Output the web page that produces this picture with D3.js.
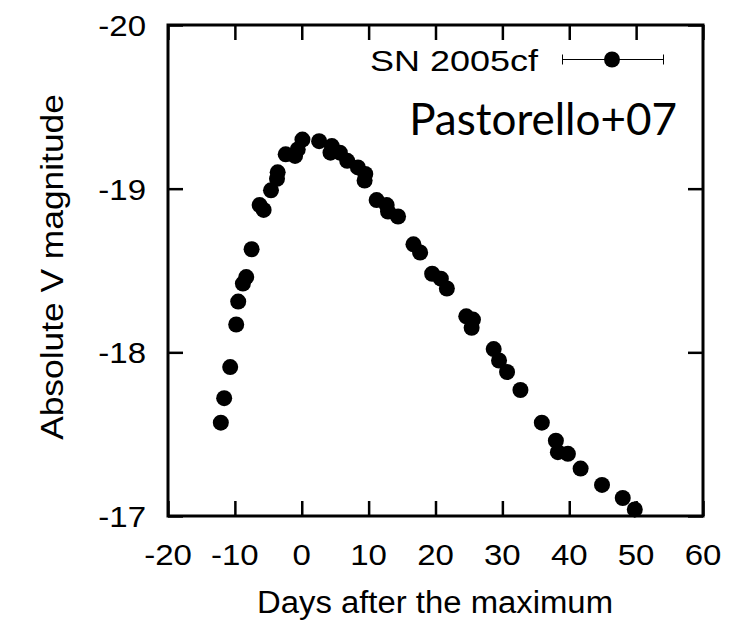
<!DOCTYPE html>
<html>
<head>
<meta charset="utf-8">
<script src="https://cdn.jsdelivr.net/npm/d3@7"></script>
<style>
  body { margin: 0; background: #fff; }
  text { font-family: "Liberation Sans", Arial, Helvetica, sans-serif; fill: #000; }
</style>
</head>
<body>
<div id="chart"></div>
<script>
// SN 2005cf light curve
const days = [-12.1, -11.6, -10.7, -9.8, -9.5, -8.8, -8.3, -7.5, -6.3, -5.7, -4.6, -3.7, -3.6, -2.4, -1.0, -0.6,
  0.1, 2.6, 4.5, 4.3, 5.7, 6.8, 8.4, 9.5, 9.4, 11.2, 12.7, 12.9, 14.4, 16.7, 17.7, 19.5, 20.8, 21.7,
  24.6, 25.6, 25.4, 28.7, 29.5, 30.7, 32.7, 35.9, 38.0, 38.3, 39.8, 41.7, 44.9, 48.0, 49.8];
const mags = [-17.57, -17.72, -17.91, -18.17, -18.31, -18.42, -18.46, -18.63, -18.90, -18.87, -18.99, -19.06, -19.10, -19.21, -19.20, -19.24,
  -19.30, -19.29, -19.26, -19.22, -19.22, -19.17, -19.13, -19.09, -19.05, -18.93, -18.90, -18.86, -18.83, -18.66, -18.61, -18.48, -18.45, -18.39,
  -18.22, -18.20, -18.15, -18.02, -17.95, -17.88, -17.77, -17.57, -17.46, -17.39, -17.38, -17.29, -17.19, -17.11, -17.04];
const errs = [0.03, 0.03, 0.03, 0.03, 0.03, 0.03, 0.03, 0.03, 0.02, 0.02, 0.02, 0.02, 0.02, 0.02, 0.02, 0.02,
  0.02, 0.02, 0.02, 0.02, 0.02, 0.02, 0.02, 0.02, 0.02, 0.02, 0.02, 0.02, 0.02, 0.02, 0.02, 0.02, 0.02, 0.02,
  0.03, 0.03, 0.03, 0.03, 0.03, 0.03, 0.03, 0.03, 0.04, 0.03, 0.03, 0.04, 0.03, 0.04, 0.05];

const xTicks = [-20, -10, 0, 10, 20, 30, 40, 50, 60];
const yTicks = [-20, -19, -18, -17];

const WIDTH = 749, HEIGHT = 623;
const margin = {top: 25, right: 46, bottom: 107, left: 168};
const w = WIDTH - margin.left - margin.right;
const h = HEIGHT - margin.top - margin.bottom;

const svg = d3.select('#chart').append('svg')
    .attr('width', WIDTH)
    .attr('height', HEIGHT);

const g = svg.append('g')
    .attr('transform', `translate(${margin.left},${margin.top})`);

const x = d3.scaleLinear().domain([-20, 60]).range([0, w]);
const y = d3.scaleLinear().domain([-20, -17]).range([0, h]);

const TL = 15;
const SX = 1.1; // the original font runs a bit wider than Arial

// ticks, inward on all four sides
const axes = [
  d3.axisBottom(x).tickValues(xTicks).tickSizeInner(TL).tickSizeOuter(0).tickFormat(''),
  d3.axisTop(x).tickValues(xTicks).tickSizeInner(TL).tickSizeOuter(0).tickFormat(''),
  d3.axisLeft(y).tickValues(yTicks).tickSizeInner(TL).tickSizeOuter(0).tickFormat(''),
  d3.axisRight(y).tickValues(yTicks).tickSizeInner(TL).tickSizeOuter(0).tickFormat('')
];
const placements = [`translate(0,0)`, `translate(0,${h})`, `translate(${w},0)`, `translate(0,0)`];
axes.forEach((ax, i) => {
  const a = g.append('g').attr('transform', placements[i]).call(ax);
  a.select('.domain').remove();
  a.selectAll('line').attr('stroke', '#000').attr('stroke-width', 2.5);
});

g.append('rect')
    .attr('width', w).attr('height', h)
    .attr('fill', 'none').attr('stroke', '#000').attr('stroke-width', 3);

// tick labels
g.selectAll('.xl').data(xTicks).enter().append('text')
    .attr('class', 'xl')
    .attr('transform', d => `translate(${x(d)},${h + 49}) scale(${SX},1)`)
    .attr('text-anchor', 'middle')
    .style('font-size', '30px')
    .text(d => d);

g.selectAll('.yl').data(yTicks).enter().append('text')
    .attr('class', 'yl')
    .attr('transform', d => `translate(-22,${y(d) + 11}) scale(${SX},1)`)
    .attr('text-anchor', 'end')
    .style('font-size', '30px')
    .text(d => d);

// axis titles
svg.append('text')
    .attr('transform', `translate(435,613) scale(1.06,1)`)
    .attr('text-anchor', 'middle')
    .style('font-size', '31px')
    .text('Days after the maximum');

svg.append('text')
    .attr('transform', `translate(63,267) rotate(-90) scale(1.14,1)`)
    .attr('text-anchor', 'middle')
    .style('font-size', '31px')
    .text('Absolute V magnitude');

// data
const pts = days.map((d, i) => ({d, m: mags[i], e: errs[i]}));

g.selectAll('.err').data(pts).enter().append('line')
    .attr('class', 'err')
    .attr('x1', p => x(p.d)).attr('x2', p => x(p.d))
    .attr('y1', p => y(p.m - p.e)).attr('y2', p => y(p.m + p.e))
    .attr('stroke', '#000').attr('stroke-width', 1);

g.selectAll('.pt').data(pts).enter().append('circle')
    .attr('class', 'pt')
    .attr('cx', p => x(p.d))
    .attr('cy', p => y(p.m))
    .attr('r', 8)
    .attr('fill', '#000');

// legend
const lg = svg.append('g').attr('transform', 'translate(0,59.5)');
lg.append('text')
    .attr('transform', `translate(538,11) scale(1.24,1)`)
    .attr('text-anchor', 'end')
    .style('font-size', '29px')
    .text('SN 2005cf');
lg.append('line').attr('x1', 562.5).attr('x2', 663.5).attr('y1', 0).attr('y2', 0)
    .attr('stroke', '#000').attr('stroke-width', 1);
[562.5, 663.5].forEach(cx => lg.append('line')
    .attr('x1', cx).attr('x2', cx).attr('y1', -5).attr('y2', 5)
    .attr('stroke', '#000').attr('stroke-width', 1));
lg.append('circle').attr('cx', 612).attr('cy', 0).attr('r', 8).attr('fill', '#000');

svg.append('text')
    .attr('x', 677).attr('y', 135)
    .attr('text-anchor', 'end')
    .style('font-family', 'Lato, "Open Sans", sans-serif')
    .style('font-size', '44px')
    .text('Pastorello+07');
</script>
</body>
</html>
